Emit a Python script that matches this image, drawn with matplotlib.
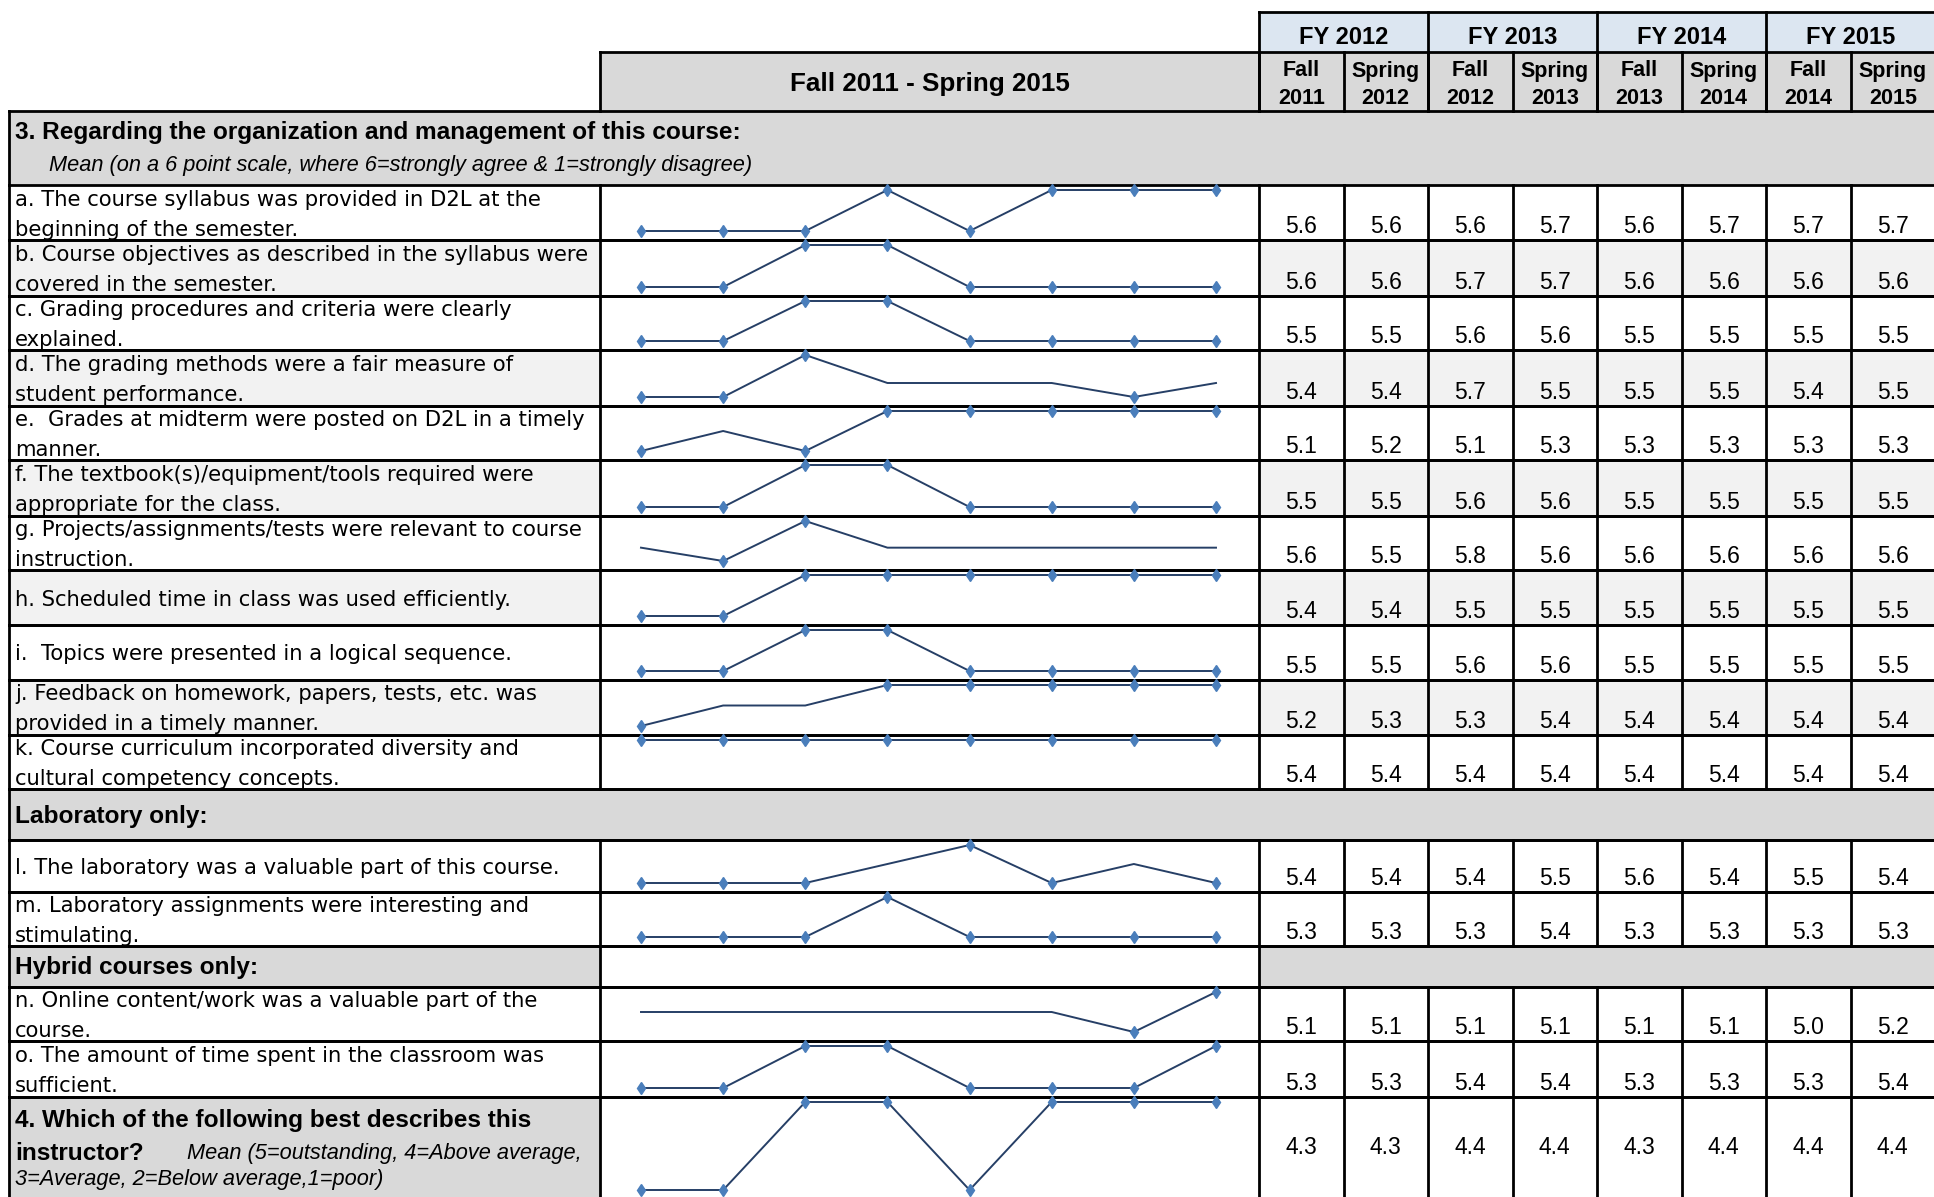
import matplotlib
matplotlib.use("Agg")
import matplotlib.pyplot as plt
from matplotlib.patches import Rectangle

# ---- data ----
FY_LABELS = ["FY 2012", "FY 2013", "FY 2014", "FY 2015"]
TERM_LABELS = [("Fall", "2011"), ("Spring", "2012"), ("Fall", "2012"), ("Spring", "2013"),
               ("Fall", "2013"), ("Spring", "2014"), ("Fall", "2014"), ("Spring", "2015")]
RANGE_LABEL = "Fall 2011 - Spring 2015"

SECTION3_TITLE = "3. Regarding the organization and management of this course:"
SECTION3_SUB = "Mean (on a 6 point scale, where 6=strongly agree & 1=strongly disagree)"
LAB_TITLE = "Laboratory only:"
HYBRID_TITLE = "Hybrid courses only:"
Q4_LINE1 = "4. Which of the following best describes this"
Q4_BOLD2 = "instructor?"
Q4_ITAL2 = "Mean (5=outstanding, 4=Above average,"
Q4_ITAL3 = "3=Average, 2=Below average,1=poor)"

item_a = ["a. The course syllabus was provided in D2L at the", "beginning of the semester."]
item_b = ["b. Course objectives as described in the syllabus were", "covered in the semester."]
item_c = ["c. Grading procedures and criteria were clearly", "explained."]
item_d = ["d. The grading methods were a fair measure of", "student performance."]
item_e = ["e.  Grades at midterm were posted on D2L in a timely", "manner."]
item_f = ["f. The textbook(s)/equipment/tools required were", "appropriate for the class."]
item_g = ["g. Projects/assignments/tests were relevant to course", "instruction."]
item_h = ["h. Scheduled time in class was used efficiently."]
item_i = ["i.  Topics were presented in a logical sequence."]
item_j = ["j. Feedback on homework, papers, tests, etc. was", "provided in a timely manner."]
item_k = ["k. Course curriculum incorporated diversity and", "cultural competency concepts."]
item_l = ["l. The laboratory was a valuable part of this course."]
item_m = ["m. Laboratory assignments were interesting and", "stimulating."]
item_n = ["n. Online content/work was a valuable part of the", "course."]
item_o = ["o. The amount of time spent in the classroom was", "sufficient."]

vals_a = [5.6, 5.6, 5.6, 5.7, 5.6, 5.7, 5.7, 5.7]
vals_b = [5.6, 5.6, 5.7, 5.7, 5.6, 5.6, 5.6, 5.6]
vals_c = [5.5, 5.5, 5.6, 5.6, 5.5, 5.5, 5.5, 5.5]
vals_d = [5.4, 5.4, 5.7, 5.5, 5.5, 5.5, 5.4, 5.5]
vals_e = [5.1, 5.2, 5.1, 5.3, 5.3, 5.3, 5.3, 5.3]
vals_f = [5.5, 5.5, 5.6, 5.6, 5.5, 5.5, 5.5, 5.5]
vals_g = [5.6, 5.5, 5.8, 5.6, 5.6, 5.6, 5.6, 5.6]
vals_h = [5.4, 5.4, 5.5, 5.5, 5.5, 5.5, 5.5, 5.5]
vals_i = [5.5, 5.5, 5.6, 5.6, 5.5, 5.5, 5.5, 5.5]
vals_j = [5.2, 5.3, 5.3, 5.4, 5.4, 5.4, 5.4, 5.4]
vals_k = [5.4, 5.4, 5.4, 5.4, 5.4, 5.4, 5.4, 5.4]
vals_l = [5.4, 5.4, 5.4, 5.5, 5.6, 5.4, 5.5, 5.4]
vals_m = [5.3, 5.3, 5.3, 5.4, 5.3, 5.3, 5.3, 5.3]
vals_n = [5.1, 5.1, 5.1, 5.1, 5.1, 5.1, 5.0, 5.2]
vals_o = [5.3, 5.3, 5.4, 5.4, 5.3, 5.3, 5.3, 5.4]
vals_q4 = [4.3, 4.3, 4.4, 4.4, 4.3, 4.4, 4.4, 4.4]

# ---- layout (pixels, full size) ----
W, H = 1934, 1197
X_LEFT, X_SPARK, X_NUM = 9, 600, 1259
COL_W = 84.5
SPARK_X0, SPARK_X1 = 641, 1216

GRAY = "#d9d9d9"
LIGHT = "#f2f2f2"
BLUE_HDR = "#dce6f1"
LINE_C = "#263f66"
MARK_C = "#4a7ebb"
LW = 2.0

LABEL_FONT = ["DejaVu Sans"]
HEAD_FONT = ["Liberation Sans", "DejaVu Sans"]
LABEL_SIZE = 15.2
NUM_SIZE = 16.5
BOLD_SIZE = 17.6
ITAL_SIZE = 15.7

# (kind, top, bottom, label, values, shaded)
rows = [
    ("item", 185, 240, item_a, vals_a, False),
    ("item", 240, 296, item_b, vals_b, True),
    ("item", 296, 350, item_c, vals_c, False),
    ("item", 350, 406, item_d, vals_d, True),
    ("item", 406, 460, item_e, vals_e, False),
    ("item", 460, 516, item_f, vals_f, True),
    ("item", 516, 570, item_g, vals_g, False),
    ("item", 570, 625, item_h, vals_h, True),
    ("item", 625, 680, item_i, vals_i, False),
    ("item", 680, 735, item_j, vals_j, True),
    ("item", 735, 789, item_k, vals_k, False),
    ("band", 789, 840, LAB_TITLE, None, False),
    ("item", 840, 892, item_l, vals_l, False),
    ("item", 892, 946, item_m, vals_m, False),
    ("hybrid", 946, 987, HYBRID_TITLE, None, False),
    ("item", 987, 1041, item_n, vals_n, False),
    ("item", 1041, 1097, item_o, vals_o, False),
    ("q4", 1097, 1199, None, vals_q4, False),
]

fig = plt.figure(figsize=(W / 100, H / 100), dpi=100)
ax = fig.add_axes([0, 0, 1, 1])
ax.set_xlim(0, W)
ax.set_ylim(H, 0)
ax.axis("off")

col_edges = [X_NUM + i * COL_W for i in range(9)]


def hline(y, x0, x1):
    ax.plot([x0, x1], [y, y], color="black", lw=LW, solid_capstyle="projecting", zorder=5)


def vline(x, y0, y1):
    ax.plot([x, x], [y0, y1], color="black", lw=LW, solid_capstyle="projecting", zorder=5)


def rect(x0, y0, x1, y1, color):
    ax.add_patch(Rectangle((x0, y0), x1 - x0, y1 - y0, facecolor=color, edgecolor="none", zorder=1))


# ---- header ----
rect(X_NUM, 12, W, 52, BLUE_HDR)
rect(X_SPARK, 52, X_NUM, 111, GRAY)
rect(X_NUM, 52, W, 111, GRAY)
hline(12, X_NUM, W)
hline(52, X_SPARK, W)
vline(X_SPARK, 52, 111)
for k in range(4):
    vline(col_edges[2 * k], 12, 111)
    ax.text((col_edges[2 * k] + col_edges[2 * k + 2]) / 2, 38, FY_LABELS[k], ha="center",
            va="center", fontsize=17, fontweight="bold", family=HEAD_FONT, zorder=6)
for c in range(8):
    vline(col_edges[c], 52, 111)
    xc = (col_edges[c] + col_edges[c + 1]) / 2
    ax.text(xc, 71, TERM_LABELS[c][0], ha="center", va="center", fontsize=15.5,
            fontweight="bold", family=HEAD_FONT, zorder=6)
    ax.text(xc, 98, TERM_LABELS[c][1], ha="center", va="center", fontsize=15.5,
            fontweight="bold", family=HEAD_FONT, zorder=6)
ax.text((X_SPARK + X_NUM) / 2, 84, RANGE_LABEL, ha="center", va="center", fontsize=18.7,
        fontweight="bold", family=HEAD_FONT, zorder=6)

# section 3 header
rect(X_LEFT, 111, W, 185, GRAY)
hline(111, X_LEFT, W)
vline(X_LEFT, 111, 185)
ax.text(15, 132, SECTION3_TITLE, ha="left", va="center", fontsize=BOLD_SIZE, fontweight="bold",
        family=HEAD_FONT, zorder=6)
ax.text(49, 165, SECTION3_SUB, ha="left", va="center", fontsize=ITAL_SIZE, style="italic",
        family=HEAD_FONT, zorder=6)


def sparkline(vals, top, bottom):
    x0 = SPARK_X0 / W
    wd = (SPARK_X1 - SPARK_X0) / W
    y_top = top + 5
    y_bot = bottom - 9
    sax = fig.add_axes([x0, 1 - y_bot / H, wd, (y_bot - y_top) / H])
    sax.patch.set_alpha(0)
    sax.axis("off")
    lo, hi = min(vals), max(vals)
    sax.set_xlim(0, len(vals) - 1)
    if hi - lo < 1e-9:
        sax.set_ylim(lo - 1, hi)
    else:
        sax.set_ylim(lo, hi)
    xs = list(range(len(vals)))
    sax.plot(xs, vals, color=LINE_C, lw=1.4, clip_on=False, zorder=2)
    # Excel-style high/low point markers
    idx = [i for i, v in enumerate(vals) if abs(v - lo) < 1e-9 or abs(v - hi) < 1e-9]
    sax.plot(idx, [vals[i] for i in idx], linestyle="none", marker="d", ms=6,
             color=MARK_C, clip_on=False, zorder=3)


for kind, top, bottom, label, vals, shaded in rows:
    hline(top, X_LEFT, W)
    hline(bottom, X_LEFT, W)
    vline(X_LEFT, top, bottom)
    if kind == "item":
        if shaded:
            rect(X_LEFT, top, X_SPARK, bottom, LIGHT)
            rect(X_NUM, top, W, bottom, LIGHT)
        vline(X_SPARK, top, bottom)
        for x in col_edges[:8]:
            vline(x, top, bottom)
        mid = (top + bottom) / 2 + 2
        if len(label) == 1:
            ax.text(15, mid, label[0], ha="left", va="center", fontsize=LABEL_SIZE,
                    family=LABEL_FONT, zorder=6)
        else:
            ax.text(15, mid - 15, label[0], ha="left", va="center", fontsize=LABEL_SIZE,
                    family=LABEL_FONT, zorder=6)
            ax.text(15, mid + 15, label[1], ha="left", va="center", fontsize=LABEL_SIZE,
                    family=LABEL_FONT, zorder=6)
        for c, v in enumerate(vals):
            ax.text((col_edges[c] + col_edges[c + 1]) / 2, bottom - 7, f"{v:.1f}",
                    ha="center", va="baseline", fontsize=NUM_SIZE, family=HEAD_FONT, zorder=6)
        sparkline(vals, top, bottom)
    elif kind == "band":
        rect(X_LEFT, top, W, bottom, GRAY)
        ax.text(15, (top + bottom) / 2 + 2, label, ha="left", va="center", fontsize=BOLD_SIZE,
                fontweight="bold", family=HEAD_FONT, zorder=6)
    elif kind == "hybrid":
        rect(X_LEFT, top, X_SPARK, bottom, GRAY)
        rect(X_NUM, top, W, bottom, GRAY)
        vline(X_SPARK, top, bottom)
        vline(X_NUM, top, bottom)
        ax.text(15, (top + bottom) / 2 + 1, label, ha="left", va="center", fontsize=BOLD_SIZE,
                fontweight="bold", family=HEAD_FONT, zorder=6)
    elif kind == "q4":
        rect(X_LEFT, top, X_SPARK, bottom, GRAY)
        vline(X_SPARK, top, bottom)
        for x in col_edges[:8]:
            vline(x, top, bottom)
        ax.text(15, 1121, Q4_LINE1, ha="left", va="center", fontsize=BOLD_SIZE,
                fontweight="bold", family=HEAD_FONT, zorder=6)
        ax.text(15, 1153, Q4_BOLD2, ha="left", va="center", fontsize=BOLD_SIZE,
                fontweight="bold", family=HEAD_FONT, zorder=6)
        ax.text(187, 1153, Q4_ITAL2, ha="left", va="center", fontsize=ITAL_SIZE,
                style="italic", family=HEAD_FONT, zorder=6)
        ax.text(15, 1180, Q4_ITAL3, ha="left", va="center", fontsize=ITAL_SIZE,
                style="italic", family=HEAD_FONT, zorder=6)
        for c, v in enumerate(vals):
            ax.text((col_edges[c] + col_edges[c + 1]) / 2, (top + bottom) / 2, f"{v:.1f}",
                    ha="center", va="center", fontsize=NUM_SIZE, family=HEAD_FONT, zorder=6)
        sparkline(vals, top, bottom)

fig.savefig("out.png", dpi=100)
